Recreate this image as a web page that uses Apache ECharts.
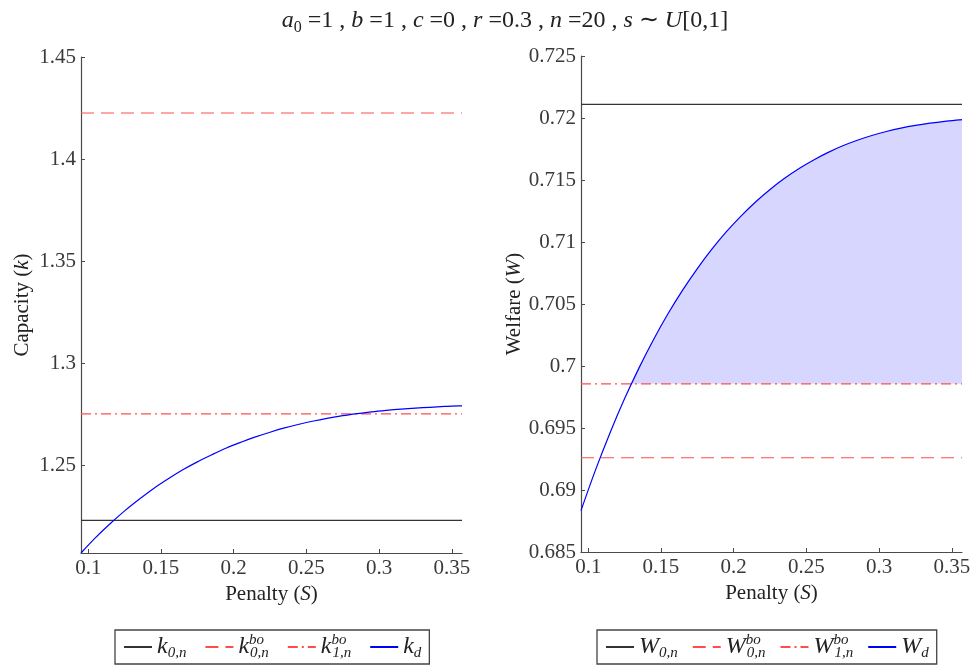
<!DOCTYPE html>
<html><head><meta charset="utf-8">
<script src="https://cdn.jsdelivr.net/npm/echarts@6/dist/echarts.min.js"></script>
<style>html,body{margin:0;padding:0;background:#fff}#c{width:974px;height:666px}</style>
</head><body><div id="c"></div>
<script>
// ---- data ----
const penalty = [0.095,0.105,0.115,0.125,0.135,0.145,0.155,0.165,0.175,0.185,0.195,0.205,0.215,0.225,0.235,0.245,0.255,0.265,0.275,0.285,0.295,0.305,0.315,0.325,0.335,0.345,0.355,0.357];
const kd = [1.2073,1.2148,1.2216,1.2279,1.2336,1.2389,1.2436,1.2480,1.2519,1.2554,1.2587,1.2615,1.2641,1.2664,1.2685,1.2703,1.2719,1.2733,1.2745,1.2755,1.2764,1.2771,1.2777,1.2782,1.2786,1.2790,1.2793,1.2793];
const wd = [0.68834,0.69162,0.69462,0.69737,0.69987,0.70216,0.70425,0.70614,0.70786,0.70942,0.71083,0.71209,0.71323,0.71424,0.71514,0.71593,0.71662,0.71723,0.71776,0.71821,0.71859,0.71891,0.71918,0.71940,0.71958,0.71973,0.71985,0.71987];
const k0n = 1.2233, k0bo = 1.4226, k1bo = 1.2754;
const w0n = 0.7211, w0bo = 0.6926, w1bo = 0.69856;
const xTicks = [0.1,0.15,0.2,0.25,0.3,0.35];
const kTicks = [1.25,1.3,1.35,1.4,1.45];
const wTicks = [0.685,0.69,0.695,0.7,0.705,0.71,0.715,0.72,0.725];
const kRange = [1.2073,1.45];
const wRange = [0.685,0.725];

const FONT = 'Liberation Serif';
const AX = '#4a4a4a', LBL = '#3a3a3a';
const RED = '#ff4d4d', BLUE = '#0000ff', BLK = '#333333';
const xs = penalty, x0 = xs[0], x1 = xs[xs.length-1];
const pairs = ys => xs.map((x,i)=>[x, ys[i]]);
const hline = v => [[x0,v],[x1,v]];

// filled region where W_d is above W1bo
const fill = [];
for (let i=0;i<xs.length;i++){
  if (i>0 && (wd[i-1]-w1bo)*(wd[i]-w1bo)<0){
    const t=(w1bo-wd[i-1])/(wd[i]-wd[i-1]);
    fill.push([xs[i-1]+t*(xs[i]-xs[i-1]), w1bo]);
  }
  if (wd[i]>=w1bo) fill.push([xs[i], wd[i]]);
}

const rich = {
  r:{fontFamily:FONT,fontSize:21,fontWeight:'normal',color:'#222'},
  i:{fontFamily:FONT,fontSize:21,fontWeight:'normal',fontStyle:'italic',color:'#222'},
  s:{fontFamily:FONT,fontSize:14,fontWeight:'normal',color:'#222',verticalAlign:'bottom',lineHeight:14}
};
const trich = {
  r:{fontFamily:FONT,fontSize:24,fontWeight:'normal',color:'#222',lineHeight:30},
  i:{fontFamily:FONT,fontSize:24,fontWeight:'normal',fontStyle:'italic',color:'#222',lineHeight:30},
  s:{fontFamily:FONT,fontSize:16,fontWeight:'normal',color:'#222',verticalAlign:'bottom',lineHeight:16}
};
const legRich = {
  m:{fontFamily:FONT,fontSize:24,fontStyle:'italic',color:'#222',lineHeight:28},
  sub:{fontFamily:FONT,fontSize:15,fontStyle:'italic',color:'#222',verticalAlign:'bottom',lineHeight:14},
  sup:{fontFamily:FONT,fontSize:15,fontStyle:'italic',color:'#222',verticalAlign:'top',lineHeight:14,width:1}
};
const legLabels = {
  k0n:'{m|k}{sub|0,n}', k0bo:'{m|k}{sup|bo}{sub|0,n}', k1bo:'{m|k}{sup|bo}{sub|1,n}', kd:'{m|k}{sub|d}',
  W0n:'{m|W}{sub|0,n}', W0bo:'{m|W}{sup|bo}{sub|0,n}', W1bo:'{m|W}{sup|bo}{sub|1,n}', Wd:'{m|W}{sub|d}'
};

function xAxis(gi){
  return {gridIndex:gi,type:'value',min:x0,max:x1,
    axisLine:{lineStyle:{color:AX,width:1.2}},
    axisTick:{inside:true,length:4,customValues:xTicks,lineStyle:{color:AX}},
    axisLabel:{customValues:xTicks,fontFamily:FONT,fontSize:21,color:LBL,margin:5},
    splitLine:{show:false},
    name:'{r|Penalty (}{i|S}{r|)}',nameLocation:'middle',nameGap:30,nameTextStyle:{rich}};
}
function yAxis(gi,range,ticks,name,gap){
  return {gridIndex:gi,type:'value',min:range[0],max:range[1],
    axisLine:{show:true,lineStyle:{color:AX,width:1.2}},
    axisTick:{show:true,inside:true,length:4,customValues:ticks,lineStyle:{color:AX}},
    axisLabel:{customValues:ticks,fontFamily:FONT,fontSize:21,color:LBL,margin:5},
    splitLine:{show:false},
    name,nameLocation:'middle',nameGap:gap,nameTextStyle:{rich}};
}
function ln(name,gi,data,color,type,extra){
  return Object.assign({name,type:'line',xAxisIndex:gi,yAxisIndex:gi,data,symbol:'none',
    lineStyle:{color,width:1.2,type},itemStyle:{color},silent:true,animation:false,z:3},extra||{});
}
function legend(left,names,gap){
  return {data:names,left,top:630,orient:'horizontal',itemWidth:28,itemHeight:12,itemGap:gap,
    padding:[3,8,3,8],borderColor:'#444',borderWidth:1.3,backgroundColor:'#fff',
    itemStyle:{opacity:0},
    formatter:n=>legLabels[n],textStyle:{rich:legRich},selectedMode:false};
}

const chart = echarts.init(document.getElementById('c'),null,{renderer:'canvas'});
chart.setOption({
  animation:false,
  title:{text:'{i|a}{s|0}{r| =1 , }{i|b}{r| =1 , }{i|c}{r| =0 , }{i|r}{r| =0.3 , }{i|n}{r| =20 , }{i|s}{r| ∼ }{i|U}{r|[0,1]}',
    left:500,textAlign:'center',top:1,textStyle:{fontWeight:'normal',rich:trich}},
  grid:[{left:81,top:57,width:381,height:496},{left:581,top:56,width:381,height:496}],
  xAxis:[xAxis(0),xAxis(1)],
  yAxis:[yAxis(0,kRange,kTicks,'{r|Capacity (}{i|k}{r|)}',48),yAxis(1,wRange,wTicks,'{r|Welfare (}{i|W}{r|)}',47)],
  legend:[legend(115,['k0n','k0bo','k1bo','kd'],18),legend(597,['W0n','W0bo','W1bo','Wd'],14)],
  series:[
    ln('k0n',0,hline(k0n),BLK,'solid'),
    ln('k0bo',0,hline(k0bo),RED,[13,7]),
    ln('k1bo',0,hline(k1bo),RED,[10,4,2,4]),
    ln('kd',0,pairs(kd),BLUE,'solid',{smooth:0.3}),
    {name:'fill',type:'line',xAxisIndex:1,yAxisIndex:1,data:fill,symbol:'none',smooth:0.3,
      lineStyle:{width:0},areaStyle:{origin:w1bo,color:'#d6d6ff',opacity:1},silent:true,z:1},
    ln('W0n',1,hline(w0n),BLK,'solid'),
    ln('W0bo',1,hline(w0bo),RED,[13,7]),
    ln('W1bo',1,hline(w1bo),RED,[10,4,2,4]),
    ln('Wd',1,pairs(wd),BLUE,'solid',{smooth:0.3})
  ]
});
</script></body></html>
